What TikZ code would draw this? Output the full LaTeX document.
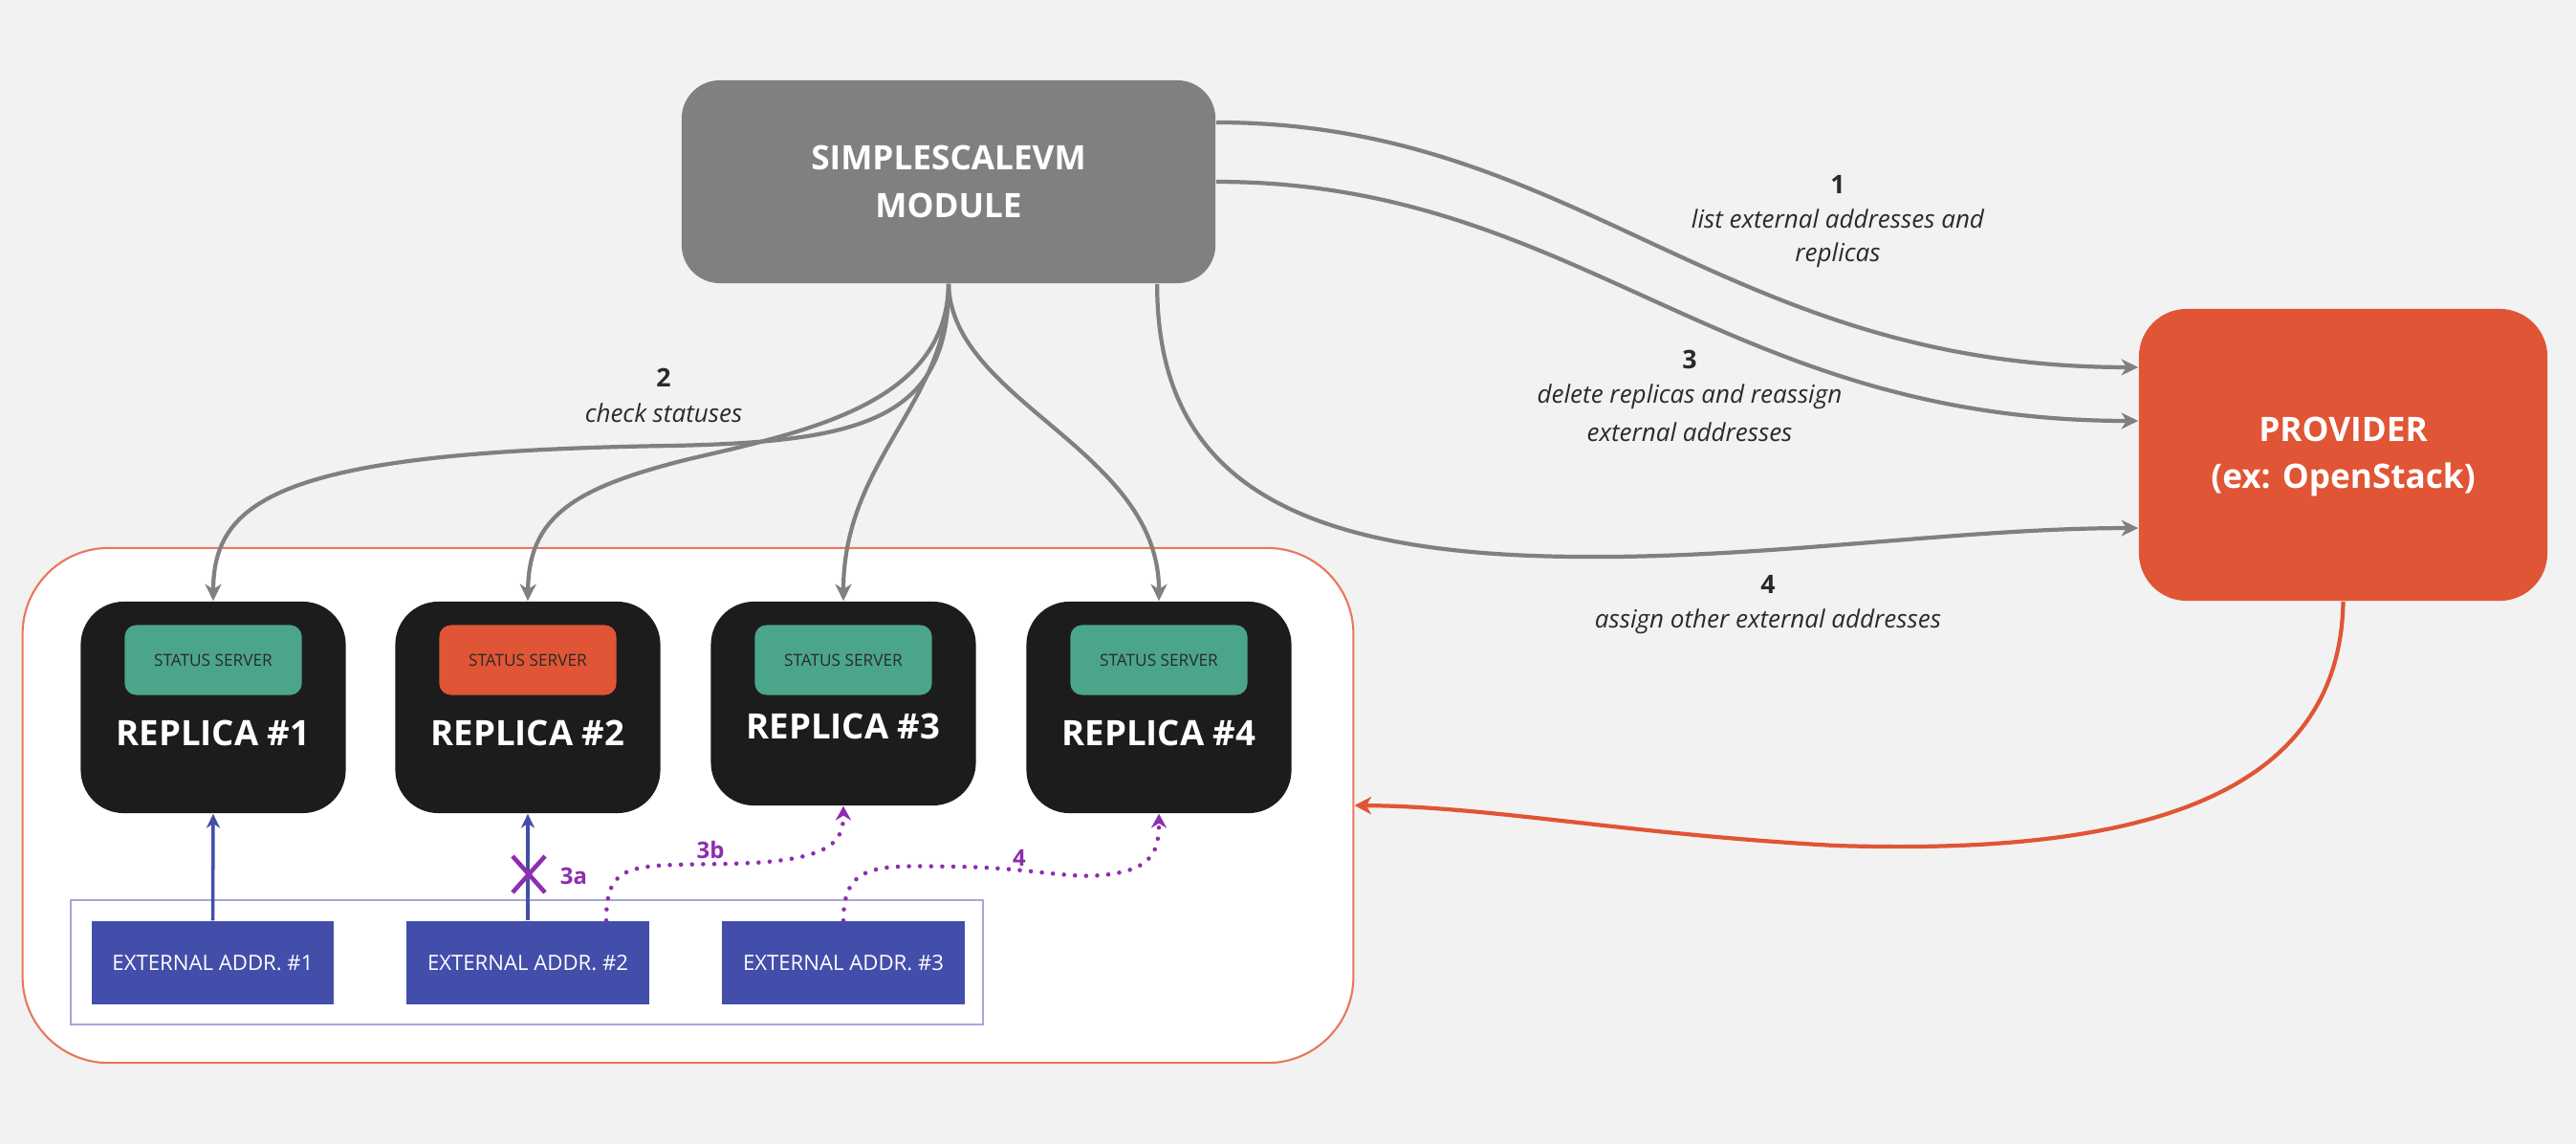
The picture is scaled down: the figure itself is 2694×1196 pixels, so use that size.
\documentclass[tikz,border=0pt]{standalone}
\usepackage{fontspec}
\setmainfont{Open Sans}
\usetikzlibrary{arrows.meta}
\definecolor{bg}{HTML}{F2F2F2}
\definecolor{modgray}{HTML}{808080}
\definecolor{provred}{HTML}{E05535}
\definecolor{repblack}{HTML}{1C1C1C}
\definecolor{okgreen}{HTML}{4BA58A}
\definecolor{extblue}{HTML}{434EAB}
\definecolor{grpline}{HTML}{A3A7D9}
\definecolor{clusterline}{HTML}{E8775E}
\definecolor{purp}{HTML}{8E2DB0}
\definecolor{labtext}{HTML}{2A2A2A}
\tikzset{
  modbox/.style={rounded corners=0.4cm, fill=modgray, text=white, align=center, inner sep=0pt,
    font=\bfseries\fontsize{10}{14}\selectfont, minimum width=5.58cm, minimum height=2.12cm},
  provbox/.style={rounded corners=0.5cm, fill=provred, text=white, align=center, inner sep=0pt,
    font=\bfseries\fontsize{10}{14.5}\selectfont, minimum width=4.27cm, minimum height=3.05cm},
  clusterbox/.style={rounded corners=0.9cm, fill=white, draw=clusterline, line width=0.6pt,
    minimum width=13.91cm, minimum height=5.38cm, inner sep=0pt},
  repbox/.style={rounded corners=0.45cm, fill=repblack, minimum width=2.77cm, minimum height=2.21cm, inner sep=0pt},
  replab/.style={text=white, font=\bfseries\fontsize{10.4}{12}\selectfont, inner sep=0pt},
  statbox/.style={rounded corners=0.12cm, minimum width=1.85cm, minimum height=0.73cm, inner sep=0pt,
    text=labtext, font=\fontsize{4.9}{6}\selectfont},
  grpbox/.style={draw=grpline, fill=white, line width=0.6pt, minimum width=9.54cm, minimum height=1.30cm, inner sep=0pt},
  extbox/.style={fill=extblue, text=white, minimum width=2.53cm, minimum height=0.87cm, inner sep=0pt,
    font=\fontsize{6.3}{7}\selectfont},
  numlab/.style={text=labtext, font=\bfseries\fontsize{7.6}{9}\selectfont, inner sep=0pt},
  desclab/.style={text=labtext, font=\itshape\fontsize{7.4}{9}\selectfont, inner sep=0pt},
  purplab/.style={text=purp, font=\bfseries\fontsize{6.8}{8}\selectfont, inner sep=0pt},
  grayarrow/.style={draw=modgray, line width=1.2pt, -{Stealth[length=5pt,width=4.8pt,inset=1.5pt]}},
  redarrow/.style={draw=provred, line width=1.2pt, -{Stealth[length=5pt,width=5.2pt,inset=1.5pt]}},
  bluearrow/.style={draw=extblue, line width=1pt, -{Stealth[length=4.2pt,width=4pt,inset=1.3pt]}},
  dotarrow/.style={draw=purp, line width=1.3pt, dash pattern=on 0pt off 3.3pt, line cap=round,
    -{Stealth[length=4.2pt,width=4.6pt,inset=1.4pt]}},
}
\begin{document}
\begin{tikzpicture}[x=0.01cm, y=-0.01cm]
\useasboundingbox (0,0) rectangle (2694,1196);
\fill[bg] (0,0) rectangle (2694,1196);

% main boxes
\node[modbox] (module) at (992,190) {SIMPLESCALEVM\\MODULE};
\node[provbox] (provider) at (2450.5,475.5) {\raisebox{-0.06cm}{\begin{tabular}{@{}c@{}}PROVIDER\\[-0.6pt](ex: OpenStack)\end{tabular}}};
\node[clusterbox] (cluster) at (719.5,842) {};

% replicas
\node[repbox] (r1) at (223,739.5) {};
\node[repbox] (r2) at (552,739.5) {};
\node[repbox, minimum height=2.13cm] (r3) at (882,735.5) {};
\node[repbox] (r4) at (1212,739.5) {};
\node[statbox, fill=okgreen] (s1) at (223,690) {STATUS SERVER};
\node[statbox, fill=provred] (s2) at (552,690) {STATUS SERVER};
\node[statbox, fill=okgreen] (s3) at (882,690) {STATUS SERVER};
\node[statbox, fill=okgreen] (s4) at (1212,690) {STATUS SERVER};
\node[replab] (l1) at (223,766) {REPLICA \#1};
\node[replab] (l2) at (552,766) {REPLICA \#2};
\node[replab] (l3) at (882,759) {REPLICA \#3};
\node[replab] (l4) at (1212,766) {REPLICA \#4};

% external addresses
\node[grpbox] (grp) at (551,1006) {};
\node[extbox] (e1) at (222.5,1006.5) {EXTERNAL ADDR. \#1};
\node[extbox] (e2) at (552,1006.5) {EXTERNAL ADDR. \#2};
\node[extbox] (e3) at (882,1006.5) {EXTERNAL ADDR. \#3};

% gray connectors module -> replicas
\draw[grayarrow] (module.south) .. controls (993,440) and (900,462) .. (700,466)
   .. controls (300,472) and (223,520) .. (r1.north);
\draw[grayarrow] (module.south) .. controls (990,420) and (850,450) .. (720,480)
   .. controls (600,510) and (553,540) .. (r2.north);
\draw[grayarrow] (module.south) .. controls (993,420) and (882,480) .. (r3.north);
\draw[grayarrow] (module.south) .. controls (995,420) and (1212,470) .. (r4.north);

% gray connectors module -> provider
\draw[grayarrow] ([yshift=0.62cm]module.east) .. controls (1650,128) and (1800,384) .. ([yshift=0.915cm]provider.west);
\draw[grayarrow] (module.east) .. controls (1650,190) and (1800,440) .. ([yshift=0.355cm]provider.west);
\draw[grayarrow] ([xshift=2.18cm]module.south) .. controls (1210,500) and (1350,580) .. (1650,582)
   .. controls (1850,584) and (2050,552) .. ([yshift=-0.765cm]provider.west);

% provider -> cluster
\draw[redarrow] (provider.south) .. controls (2447,850) and (2200,893) .. (1920,884)
   .. controls (1700,872) and (1560,843) .. (cluster.east);

% blue connectors
\draw[bluearrow] (e1.north) -- (r1.south);
\draw[bluearrow] (e2.north) -- (r2.south);

% cross mark
\coordinate (xm) at (553,914);
\draw[purp, line width=1.3pt] ([shift={(-17,-19)}]xm) -- ([shift={(17,19)}]xm);
\draw[purp, line width=1.3pt] ([shift={(-17,19)}]xm) -- ([shift={(17,-19)}]xm);

% dotted connectors
\draw[dotarrow] ([xshift=0.82cm]e2.north) .. controls (634,900) and (660,905) .. (760,903)
   .. controls (870,901) and (882,880) .. (r3.south);
\draw[dotarrow] (e3.north) .. controls (882,900) and (920,905) .. (1000,906)
   .. controls (1080,907) and (1120,920) .. (1160,914)
   .. controls (1205,908) and (1212,890) .. (r4.south);

% labels
\node[purplab] (t3a) at (600,916) {3a};
\node[purplab] (t3b) at (743,889) {3b};
\node[purplab] (t4p) at (1066,897) {4};

\node[numlab] (n2) at (694,395) {2};
\node[desclab] (d2) at (694,432) {check statuses};
\node[numlab] (n1) at (1922,193) {1};
\node[desclab] (d1a) at (1922,229) {list external addresses and};
\node[desclab] (d1b) at (1922,267) {replicas};
\node[numlab] (n3) at (1767,376) {3};
\node[desclab] (d3a) at (1767,415) {delete replicas and reassign};
\node[desclab] (d3b) at (1767,452) {external addresses};
\node[numlab] (n4) at (1849,611) {4};
\node[desclab] (d4) at (1849,650) {assign other external addresses};
\end{tikzpicture}
\end{document}
